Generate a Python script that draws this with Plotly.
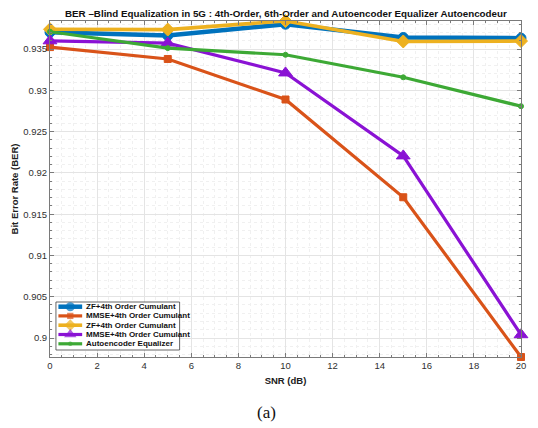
import plotly.graph_objects as go

# SNR sweep (dB)
snr_db = [0, 5, 10, 15, 20]

# BER values per equalizer
zf_cumulant_a = [0.93705, 0.93664, 0.93801, 0.93640, 0.93632]
mmse_cumulant_a = [0.93524, 0.93380, 0.92889, 0.91705, 0.89770]
zf_cumulant_b = [0.93740, 0.93736, 0.93840, 0.93592, 0.93597]
mmse_cumulant_b = [0.93600, 0.93572, 0.93211, 0.92206, 0.90040]
autoencoder = [0.93710, 0.93512, 0.93431, 0.93158, 0.92808]

series_names = [
    "ZF+4th Order Cumulant",
    "MMSE+4th Order Cumulant",
    "ZF+4th Order Cumulant",
    "MMSE+4th Order Cumulant",
    "Autoencoder Equalizer",
]
series_values = [zf_cumulant_a, mmse_cumulant_a, zf_cumulant_b, mmse_cumulant_b, autoencoder]

colors = ["#0072BD", "#D95319", "#EDB120", "#8A12D4", "#3DA935"]
symbols = ["circle", "square", "diamond", "triangle-up", "circle"]
marker_sizes = [10, 7, 10, 12, 5]
line_widths = [4.5, 3.2, 3.6, 3.2, 3.2]

W, H = 538, 428
ML, MR, MT, MB = 50, 12, 21, 71
PW, PH = W - ML - MR, H - MT - MB

def px_x(px):
    return (px - ML) / PW

def px_y(py):
    return (H - MB - py) / PH

fig = go.Figure()

for name, vals, c, sym, ms, lw in zip(series_names, series_values, colors, symbols, marker_sizes, line_widths):
    fig.add_trace(go.Scatter(
        x=snr_db, y=vals, name=name, mode="lines+markers",
        line=dict(color=c, width=lw),
        marker=dict(symbol=sym, size=ms, color=c, line=dict(color=c, width=1)),
        cliponaxis=False, showlegend=False,
    ))

# Compact legend drawn on an overlay axis spanning the plot area (0..1)
bx0, bx1 = px_x(56), px_x(181)
by0, by1 = px_y(350), px_y(302)
fig.add_trace(go.Scatter(
    x=[bx0, bx1, bx1, bx0, bx0], y=[by0, by0, by1, by1, by0],
    mode="lines", fill="toself", fillcolor="white",
    line=dict(color="#404040", width=0.8),
    xaxis="x2", yaxis="y2", showlegend=False, hoverinfo="skip",
))
row_px = [306.7, 315.9, 325.2, 334.5, 343.8]
lx0, lx1, lxm = px_x(58.5), px_x(82.5), px_x(70.5)
for name, c, sym, ms, lw, rp in zip(series_names, colors, symbols, marker_sizes, line_widths, row_px):
    yy = px_y(rp)
    fig.add_trace(go.Scatter(
        x=[lx0, lxm, lx1], y=[yy, yy, yy], mode="lines+markers",
        line=dict(color=c, width=lw),
        marker=dict(symbol=sym, size=[0, ms * 0.9, 0], color=c, line=dict(width=0)),
        xaxis="x2", yaxis="y2", showlegend=False, hoverinfo="skip",
    ))
    fig.add_annotation(
        x=px_x(84), y=yy, xref="paper", yref="paper", text=name,
        showarrow=False, xanchor="left", yanchor="middle",
        font=dict(family="Liberation Sans", size=8, color="#111111", weight="bold"),
    )

axis_common = dict(
    showline=True, linecolor="#7a7a7a", linewidth=1, mirror="ticks",
    ticks="inside", ticklen=4, tickcolor="#7a7a7a", tickwidth=1,
    showgrid=True, gridcolor="#e4e4e4", gridwidth=1, zeroline=False,
    tickfont=dict(family="Liberation Sans", size=9.5, color="#303030"),
)

fig.update_layout(
    width=W, height=H,
    margin=dict(l=ML, r=MR, t=MT, b=MB),
    paper_bgcolor="white", plot_bgcolor="white",
    xaxis=dict(
        range=[0, 20], dtick=2, tick0=0,
        title=dict(text="<b>SNR (dB)</b>", standoff=6,
                   font=dict(family="Liberation Sans", size=9.5, color="#202020")),
        minor=dict(dtick=0.5, ticks="inside", ticklen=2, tickcolor="#7a7a7a",
                   showgrid=True, gridcolor="#f0f0f0", griddash="dot"),
        **axis_common,
    ),
    yaxis=dict(
        range=[0.8977, 0.9384], dtick=0.005, tick0=0.9,
        tickformat="~g",
        title=dict(text="<b>Bit Error Rate (BER)</b>", standoff=2,
                   font=dict(family="Liberation Sans", size=9.5, color="#202020")),
        minor=dict(dtick=0.001, ticks="inside", ticklen=2, tickcolor="#7a7a7a",
                   showgrid=True, gridcolor="#f0f0f0", griddash="dot"),
        **axis_common,
    ),
    xaxis2=dict(overlaying="x", range=[0, 1], visible=False, fixedrange=True),
    yaxis2=dict(overlaying="y", range=[0, 1], visible=False, fixedrange=True),
    showlegend=False,
)

fig.add_annotation(
    x=0.5, y=px_y(13.5), xref="paper", yref="paper",
    text="<b>BER \u2013Blind Equalization in 5G : 4th-Order, 6th-Order and Autoencoder Equalizer Autoencodeur</b>",
    showarrow=False, xanchor="center", yanchor="middle",
    font=dict(family="Liberation Sans", size=9.8, color="#111111"),
)
fig.add_annotation(
    x=px_x(269), y=px_y(412), xref="paper", yref="paper", text="(a)",
    showarrow=False, xanchor="center", yanchor="middle",
    font=dict(family="Liberation Serif", size=17, color="#111111"),
)

fig.write_html("out.html")
